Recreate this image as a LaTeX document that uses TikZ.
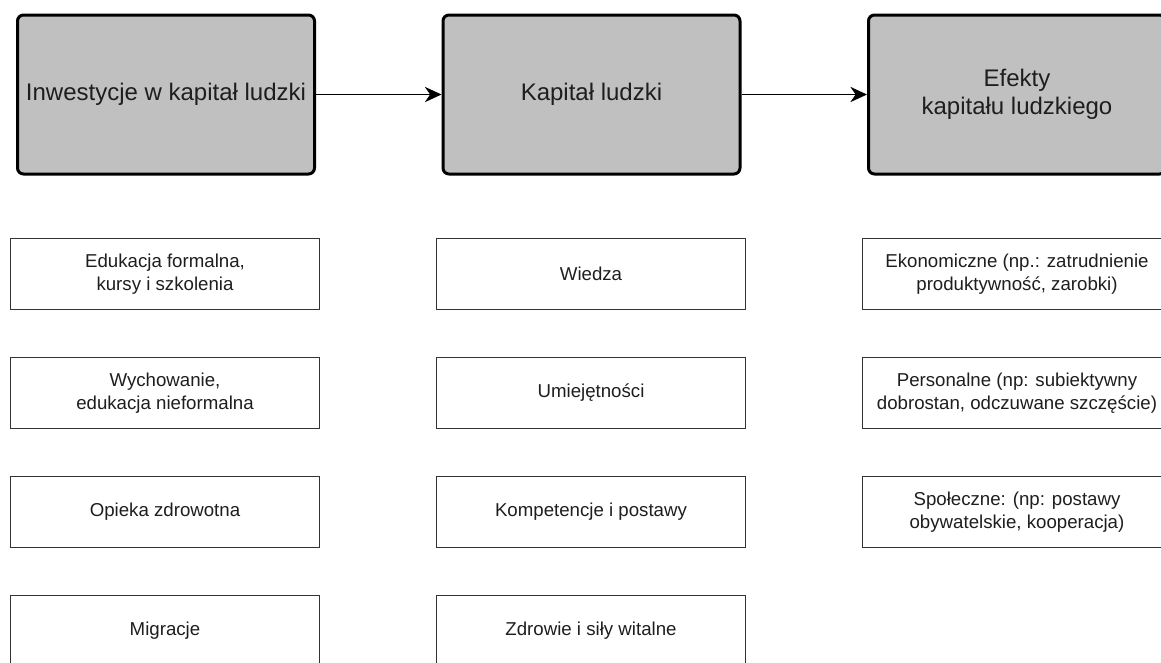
\documentclass[tikz,border=0pt]{standalone}
\usepackage{fontspec}
\setmainfont{Liberation Sans}
\usetikzlibrary{arrows.meta}
\definecolor{boxgray}{HTML}{C0C0C0}
\definecolor{inkc}{HTML}{1E1E1E}
\definecolor{edgec}{HTML}{333333}
\tikzset{
  mainbox/.style={draw=black, fill=boxgray, line width=2.25pt, rounded corners=4.5pt,
    minimum width=222.75pt, minimum height=119.25pt, align=center, text=inkc,
    font=\fontsize{18}{21}\selectfont, inner sep=0pt},
  itembox/.style={draw=edgec, fill=white, line width=0.75pt,
    minimum width=231.75pt, minimum height=52.9pt, align=center, text=inkc,
    font=\fontsize{14}{17.25}\selectfont, inner sep=0pt},
  flow/.style={draw=black, line width=1pt,
    -{Stealth[length=12.5pt, width=11.5pt, inset=4pt]}},
}
\begin{document}
\begin{tikzpicture}[x=0.75pt, y=-0.75pt]
\useasboundingbox (0,0) rectangle (1161,662);
\fill[white] (0,0) rectangle (1161,662);
\clip (0,0) rectangle (1161,662);

% main stages
\node[mainbox] (inv) at (166,94.5) {Inwestycje w kapitał ludzki};
\node[mainbox] (cap) at (591.5,94.5) {Kapitał ludzki};
\node[mainbox] (eff) at (1017,94.5) {Efekty\\kapitału ludzkiego};

\draw[flow] (inv.east) -- (cap.west);
\draw[flow] (cap.east) -- (eff.west);

% investments
\node[itembox] (i1) at (165,274) {Edukacja formalna,\\kursy i szkolenia};
\node[itembox] (i2) at (165,393) {Wychowanie,\\edukacja nieformalna};
\node[itembox] (i3) at (165,512) {Opieka zdrowotna};
\node[itembox] (i4) at (165,631) {Migracje};

% components of human capital
\node[itembox] (c1) at (591,274) {Wiedza};
\node[itembox] (c2) at (591,393) {Umiejętności};
\node[itembox] (c3) at (591,512) {Kompetencje i postawy};
\node[itembox] (c4) at (591,631) {Zdrowie i siły witalne};

% effects
\node[itembox] (e1) at (1017,274) {Ekonomiczne (np.: zatrudnienie\\produktywność, zarobki)};
\node[itembox] (e2) at (1017,393) {Personalne (np: subiektywny\\dobrostan, odczuwane szczęście)};
\node[itembox] (e3) at (1017,512) {Społeczne: (np: postawy\\obywatelskie, kooperacja)};
\end{tikzpicture}
\end{document}
